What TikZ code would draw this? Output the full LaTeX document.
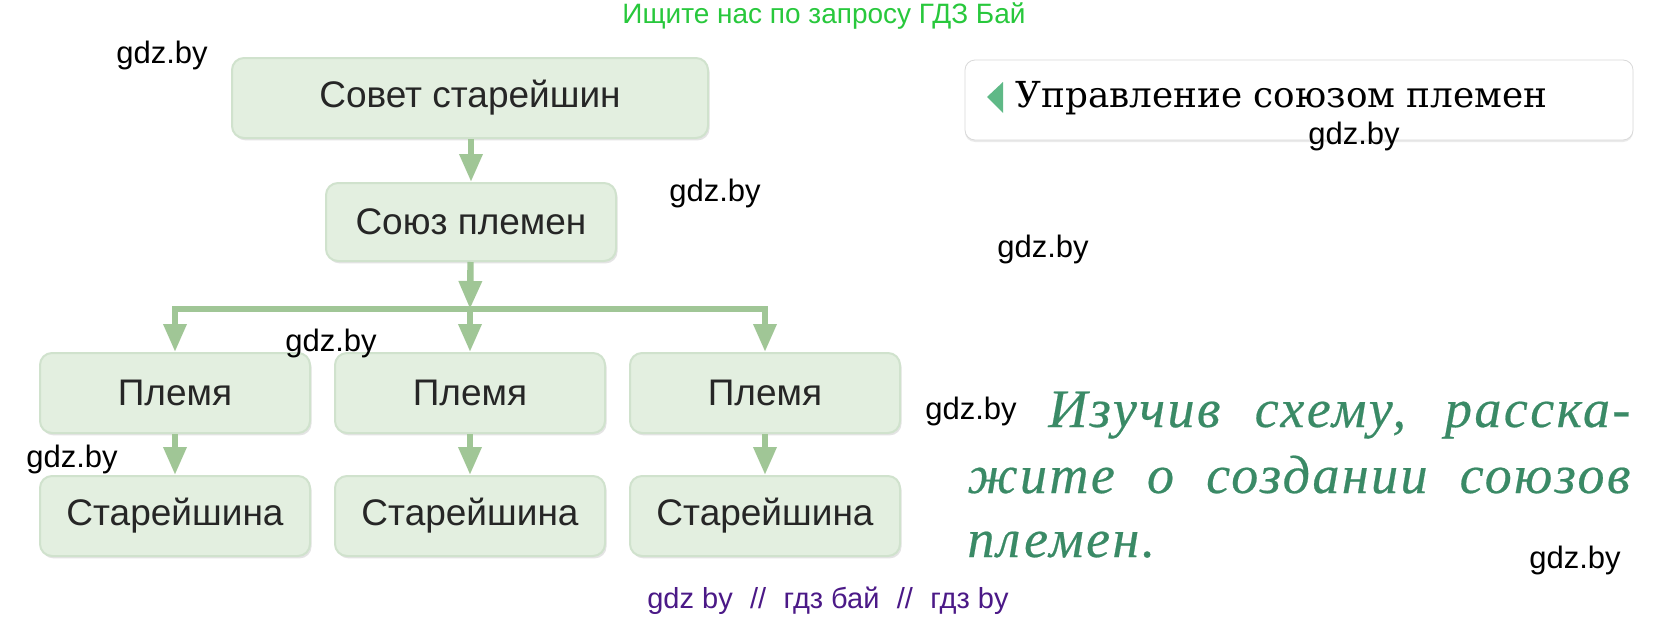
\documentclass[tikz,border=0pt]{standalone}
\usepackage{fontspec}
\setmainfont{Liberation Sans}
\newfontfamily\bookfont{DejaVu Serif}
\newfontfamily\taskfont[LetterSpace=4.5,FakeBold=0.4]{Liberation Serif}
\usetikzlibrary{arrows.meta,shadows}
\definecolor{boxfill}{RGB}{227,239,224}
\definecolor{boxedge}{RGB}{208,226,205}
\definecolor{linkgreen}{RGB}{160,198,150}
\definecolor{markgreen}{RGB}{95,185,135}
\definecolor{taskgreen}{RGB}{58,138,102}
\definecolor{topgreen}{RGB}{40,200,60}
\definecolor{sitepurple}{RGB}{75,25,135}
\tikzset{
  box/.style={draw=boxedge,line width=1pt,fill=boxfill,rounded corners=6pt,
    minimum width=135pt,minimum height=40pt,text=black!85,
    font=\fontsize{18.5}{20}\selectfont,
    drop shadow={shadow xshift=0.8pt,shadow yshift=-1.2pt,fill=black!30,opacity=0.35}},
  link/.style={draw=linkgreen,line width=3.2pt,-{Triangle[width=11pt,length=14pt]}},
  stamp/.style={font=\fontsize{15.5}{17}\selectfont},
  task/.style={text=taskgreen,font=\taskfont\itshape\fontsize{27}{28}\selectfont,
    inner sep=0pt,anchor=base west},
}

\begin{document}
\begin{tikzpicture}[x=0.5pt,y=-0.5pt]
  \fill[white] (0,0) rectangle (1661,621);
  \useasboundingbox (0,0) rectangle (1661,621);
  % scheme
  \draw (470,98) node[box,minimum width=238pt] (sovet) {Совет старейшин};
  \draw (471,222) node[box,minimum width=145pt,minimum height=39pt] (soyuz) {Союз племен};
  \draw (175,393) node[box] (tribeA) {Племя};
  \draw (470,393) node[box] (tribeB) {Племя};
  \draw (765,393) node[box] (tribeC) {Племя};
  \draw (175,516) node[box] (elderA) {Старейшина};
  \draw (470,516) node[box] (elderB) {Старейшина};
  \draw (765,516) node[box] (elderC) {Старейшина};
  \coordinate (fork) at (470,309);
  \draw[link] (sovet.south -| soyuz) -- (soyuz);
  \draw[link] (soyuz) -- (fork);
  \draw[link] (fork) -- (tribeB);
  \draw[link] (fork) -| (tribeA);
  \draw[link] (fork) -| (tribeC);
  \draw[link] (tribeA) -- (elderA);
  \draw[link] (tribeB) -- (elderB);
  \draw[link] (tribeC) -- (elderC);
  % header
  \node[draw=black!15,fill=white,rounded corners=5pt,minimum width=334pt,minimum height=40pt,
    drop shadow={shadow xshift=0pt,shadow yshift=-1pt,fill=black!20,opacity=0.4}] (header) at (1299,100) {};
  \fill[markgreen] (1003,82) -- (987,97) -- (1003,113) -- cycle;
  \node[font=\bookfont\fontsize{17.9}{20}\selectfont,anchor=base west,inner sep=0pt] (title) at (1015,107) {Управление союзом племен};
  % task
  \node[task] (taskA) at (1048,427) {\makebox[291pt][s]{Изучив схему, расска-}};
  \node[task] (taskB) at (967,493) {\makebox[331.5pt][s]{жите о создании союзов}};
  \node[task] (taskC) at (967,557) {племен.};
  % watermarks
  \node[font=\fontsize{14}{16}\selectfont,text=topgreen] (query) at (824,16) {Ищите нас по запросу ГДЗ Бай};
  \node[font=\fontsize{14.5}{16}\selectfont,text=sitepurple] (site) at (828,601) {gdz by\hspace{0.6em}//\hspace{0.6em}гдз бай\hspace{0.6em}//\hspace{0.6em}гдз by};
  \node[stamp] (wmA) at (162,55) {gdz.by};
  \node[stamp] (wmB) at (715,193) {gdz.by};
  \node[stamp] (wmC) at (1043,249) {gdz.by};
  \node[stamp] (wmD) at (331,343) {gdz.by};
  \node[stamp] (wmE) at (1354,136) {gdz.by};
  \node[stamp] (wmF) at (971,411) {gdz.by};
  \node[stamp] (wmG) at (72,459) {gdz.by};
  \node[stamp] (wmH) at (1575,560) {gdz.by};
\end{tikzpicture}
\end{document}
